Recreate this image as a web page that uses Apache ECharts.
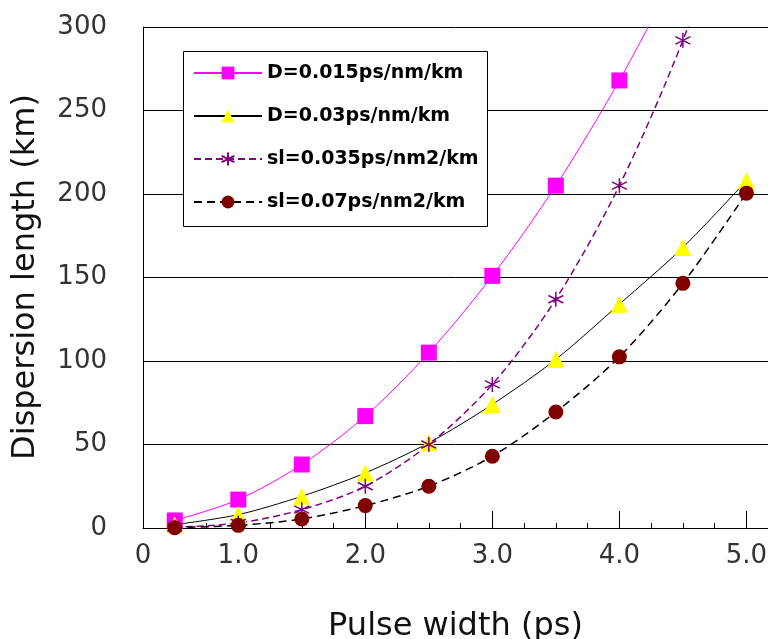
<!DOCTYPE html>
<html lang="en">

<head>
  <meta charset="UTF-8">
  <script src="https://cdn.jsdelivr.net/npm/echarts@6/dist/echarts.min.js"></script>
  <title>Dispersion length</title>
  <style>
    html, body {
      margin: 0;
      padding: 0;
      background: #fff;
    }
    #main {
      width: 768px;
      height: 639px;
    }
  </style>
</head>

<body>
  <div id="main"></div>

  <script>
    // pulse width (ps)
    var widths = [0.5, 1.0, 1.5, 2.0, 2.5, 3.0, 3.5, 4.0, 4.5, 5.0]
    // dispersion length (km)
    var d015 = [4.5, 17, 38, 67, 105, 151, 205, 268, 340]
    var d03 = [2, 8, 19, 33, 51, 74, 101, 134, 168, 208]
    var sl035 = [0.4, 3, 11, 25, 50, 86, 137, 205, 292, 400]
    var sl07 = [0.2, 1.6, 5.4, 13.4, 25, 43, 69.5, 102.5, 146.5, 200.5]

    var names = ['D=0.015ps/nm/km', 'D=0.03ps/nm/km', 'sl=0.035ps/nm2/km', 'sl=0.07ps/nm2/km']

    var majorTicks = [1, 2, 3, 4, 5]
    var minorTicks = [0.5, 0.75, 1.25, 1.5, 1.75, 2.25, 2.5, 2.75, 3.25, 3.5, 3.75, 4.25, 4.5, 4.75]
    var xLabels = [0.25, 1, 2, 3, 4, 5]

    var pairs = ys => ys.map((y, i) => [widths[i], y])

    var star = 'path://M5,0L5,10M0.7,2.5L9.3,7.5M0.7,7.5L9.3,2.5'

    var myChart = echarts.init(document.getElementById('main'))

    var axisFont = {
      fontFamily: 'DejaVu Sans',
      fontSize: 26,
      color: '#333'
    }

    var option = {
      animation: false,
      grid: {
        left: 143,
        right: 0,
        top: 27,
        bottom: 111,
        outerBoundsMode: 'none'
      },
      graphic: [{
        type: 'rect',
        z: 5,
        shape: { x: 183.5, y: 51.5, width: 304, height: 175 },
        style: { fill: '#fff', stroke: '#000', lineWidth: 1 }
      }, {
        type: 'text',
        x: 26,
        y: 277,
        rotation: Math.PI / 2,
        style: {
          text: 'Dispersion length (km)',
          fontFamily: 'DejaVu Sans',
          fontSize: 32,
          fill: '#111',
          align: 'center',
          verticalAlign: 'middle'
        }
      }],
      legend: {
        z: 6,
        orient: 'vertical',
        left: 193,
        top: 63,
        padding: 0,
        itemWidth: 68,
        itemHeight: 16,
        itemGap: 23,
        data: names,
        textStyle: {
          fontFamily: 'DejaVu Sans',
          fontWeight: 'bold',
          fontSize: 19,
          lineHeight: 20,
          color: '#000'
        }
      },
      xAxis: [{
        type: 'value',
        min: 0.25,
        max: 5.17,
        name: 'Pulse width (ps)',
        nameLocation: 'middle',
        nameGap: 83,
        nameTextStyle: {
          fontFamily: 'DejaVu Sans',
          fontSize: 32,
          color: '#111'
        },
        axisLine: { lineStyle: { color: '#000', width: 1 } },
        axisTick: {
          inside: true,
          length: 17,
          customValues: majorTicks,
          lineStyle: { color: '#000' }
        },
        axisLabel: Object.assign({
          margin: 15,
          customValues: xLabels,
          formatter: v => v < 0.5 ? '0' : v.toFixed(1)
        }, axisFont),
        splitLine: { show: false }
      }, {
        type: 'value',
        min: 0.25,
        max: 5.17,
        position: 'bottom',
        axisLine: { show: false },
        axisTick: {
          inside: true,
          length: 5,
          customValues: minorTicks,
          lineStyle: { color: '#000' }
        },
        axisLabel: { show: false },
        splitLine: { show: false }
      }],
      yAxis: {
        type: 'value',
        min: 0,
        max: 300,
        interval: 50,
        axisLine: { show: true, lineStyle: { color: '#000', width: 1 } },
        axisTick: { show: false },
        axisLabel: Object.assign({ margin: 36 }, axisFont),
        splitLine: { lineStyle: { color: '#000', width: 1 } }
      },
      series: [{
        name: names[0],
        type: 'line',
        smooth: 0.3,
        data: pairs(d015),
        symbol: 'rect',
        symbolSize: 16,
        color: '#ff00ff',
        itemStyle: { color: '#ff00ff' },
        lineStyle: { color: '#ff00ff', width: 1 }
      }, {
        name: names[1],
        type: 'line',
        smooth: 0.3,
        data: pairs(d03),
        symbol: 'triangle',
        symbolSize: 17,
        color: '#ffff00',
        itemStyle: { color: '#ffff00' },
        lineStyle: { color: '#000', width: 1 }
      }, {
        name: names[2],
        type: 'line',
        smooth: 0.3,
        data: pairs(sl035),
        symbol: star,
        symbolSize: 15,
        color: '#800080',
        itemStyle: { color: '#800080', borderColor: '#800080', borderWidth: 1.5 },
        lineStyle: { color: '#800080', width: 1.5, type: [7, 4] }
      }, {
        name: names[3],
        type: 'line',
        smooth: 0.3,
        data: pairs(sl07),
        symbol: 'circle',
        symbolSize: 15,
        color: '#800000',
        itemStyle: { color: '#800000' },
        lineStyle: { color: '#000', width: 1.5, type: [8, 5] }
      }]
    }

    myChart.setOption(option)
  </script>
</body>

</html>
